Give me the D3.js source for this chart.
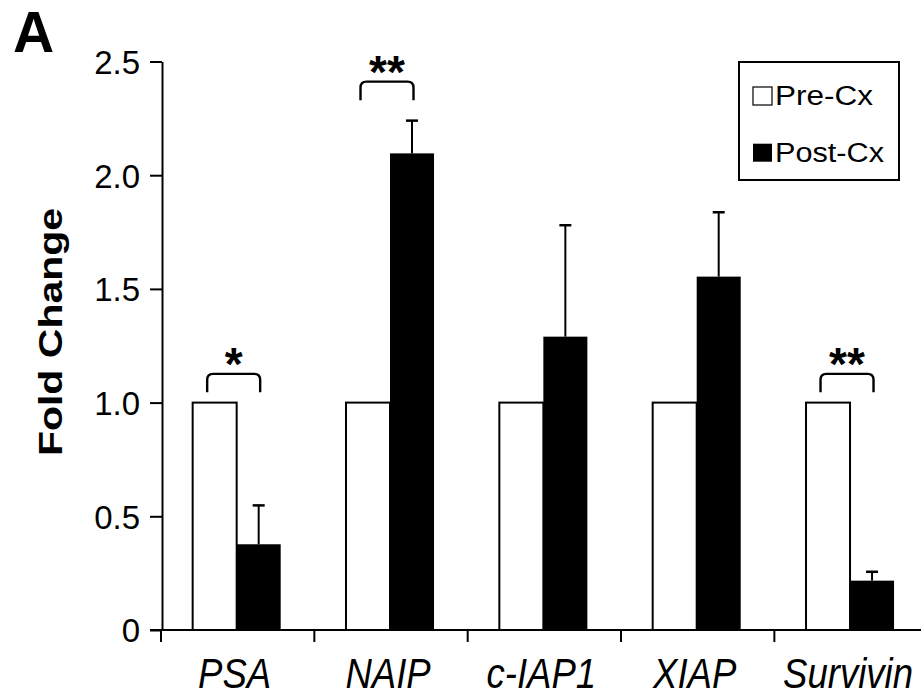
<!DOCTYPE html>
<html>
<head>
<meta charset="utf-8">
<script src="https://cdn.jsdelivr.net/npm/d3@7"></script>
<style>
  body { margin: 0; background: #fff; }
  svg { display: block; font-family: "Liberation Sans", Arial, sans-serif; }
</style>
</head>
<body>
<div id="chart"></div>
<script>
// chart values
var categories = ["PSA", "NAIP", "c-IAP1", "XIAP", "Survivin"];
var seriesNames = ["Pre-Cx", "Post-Cx"];
var preValues = [1.0, 1.0, 1.0, 1.0, 1.0];
var postValues = [0.377, 2.096, 1.29, 1.554, 0.217];
var postErrors = [0.171, 0.144, 0.49, 0.283, 0.039];
var sigLabels = ["*", "**", "", "", "**"];
var sigLevels = [1.045, 2.33, null, null, 1.045];
var yTicks = [0, 0.5, 1.0, 1.5, 2.0, 2.5];
var yTickLabels = ["0", "0.5", "1.0", "1.5", "2.0", "2.5"];

var width = 921, height = 698;

var svg = d3.select("#chart")
  .append("svg")
  .attr("width", width)
  .attr("height", height);

var y = d3.scaleLinear().domain([0, 2.5]).range([630, 61.5]);

var x0 = d3.scaleBand()
  .domain(categories)
  .range([160, 926.7])
  .padding(0);

var x1 = d3.scaleBand()
  .domain(seriesNames)
  .range([0, x0.bandwidth()])
  .paddingInner(0)
  .paddingOuter(0.742);

var axisX = x0.range()[0] + 2;

// bars
var groups = svg.append("g")
  .selectAll("g")
  .data(categories)
  .enter()
  .append("g")
  .attr("transform", function(d) { return "translate(" + x0(d) + ",0)"; });

groups.append("rect")
  .attr("x", x1("Pre-Cx"))
  .attr("width", x1.bandwidth())
  .attr("y", function(d, i) { return y(preValues[i]); })
  .attr("height", function(d, i) { return y(0) - y(preValues[i]); })
  .attr("fill", "#fff")
  .attr("stroke", "#000")
  .attr("stroke-width", 2);

groups.append("rect")
  .attr("x", x1("Post-Cx"))
  .attr("width", x1.bandwidth())
  .attr("y", function(d, i) { return y(postValues[i]); })
  .attr("height", function(d, i) { return y(0) - y(postValues[i]); })
  .attr("fill", "#000");

// error bars
var cx = x1("Post-Cx") + x1.bandwidth() / 2;
groups.append("line")
  .attr("x1", cx).attr("x2", cx)
  .attr("y1", function(d, i) { return y(postValues[i]); })
  .attr("y2", function(d, i) { return y(postValues[i] + postErrors[i]); })
  .attr("stroke", "#000")
  .attr("stroke-width", 2);
groups.append("line")
  .attr("x1", cx - 6).attr("x2", cx + 6)
  .attr("y1", function(d, i) { return y(postValues[i] + postErrors[i]); })
  .attr("y2", function(d, i) { return y(postValues[i] + postErrors[i]); })
  .attr("stroke", "#000")
  .attr("stroke-width", 2.5);

// significance brackets
var sig = groups.filter(function(d, i) { return sigLevels[i] !== null; });
sig.append("path")
  .attr("d", function(d) {
    var i = categories.indexOf(d);
    var mid = x0.bandwidth() / 2 - 3, half = 26.5, r = 6;
    var bottom = y(sigLevels[i]), top = bottom - 18.5;
    var l = mid - half, rt = mid + half;
    return "M" + l + "," + bottom + "L" + l + "," + (top + r) +
      "Q" + l + "," + top + " " + (l + r) + "," + top +
      "L" + (rt - r) + "," + top +
      "Q" + rt + "," + top + " " + rt + "," + (top + r) +
      "L" + rt + "," + bottom;
  })
  .attr("fill", "none")
  .attr("stroke", "#000")
  .attr("stroke-width", 2.4);
sig.append("text")
  .attr("x", x0.bandwidth() / 2 - 3)
  .attr("y", function(d) { var i = categories.indexOf(d); return y(sigLevels[i]) - 18.5 + 6; })
  .attr("text-anchor", "middle")
  .style("font-size", "46px")
  .style("font-weight", "bold")
  .text(function(d) { return sigLabels[categories.indexOf(d)]; });

// y axis
var yAxis = svg.append("g")
  .attr("transform", "translate(" + axisX + ",0)")
  .call(d3.axisLeft(y)
    .tickValues(yTicks)
    .tickFormat(function(d, i) { return yTickLabels[i]; })
    .tickSize(12)
    .tickSizeOuter(0)
    .tickPadding(10));
yAxis.select(".domain").attr("stroke-width", 2);
yAxis.selectAll(".tick line").attr("stroke-width", 2);
yAxis.selectAll(".tick text")
  .attr("fill", "#000")
  .attr("dy", "0.36em")
  .style("font-size", "33px")
  .style("font-family", "'Liberation Sans', Arial, sans-serif");

// x axis line and ticks
svg.append("line")
  .attr("x1", axisX - 12).attr("x2", width)
  .attr("y1", y(0)).attr("y2", y(0))
  .attr("stroke", "#000")
  .attr("stroke-width", 2);
svg.append("g")
  .selectAll("line")
  .data(categories)
  .enter()
  .append("line")
  .attr("x1", function(d) { return x0(d) + 1; })
  .attr("x2", function(d) { return x0(d) + 1; })
  .attr("y1", y(0))
  .attr("y2", y(0) + 12)
  .attr("stroke", "#000")
  .attr("stroke-width", 2);

// category labels
svg.append("g")
  .selectAll("g")
  .data(categories)
  .enter()
  .append("g")
  .attr("transform", function(d) { return "translate(" + (x0(d) + x0.bandwidth() / 2 - 2) + ",688)"; })
  .append("text")
  .attr("transform", "scale(0.85,1)")
  .attr("text-anchor", "middle")
  .style("font-size", "43px")
  .style("font-style", "italic")
  .text(function(d) { return d; });

// y title
svg.append("text")
  .attr("transform", "translate(62,332) rotate(-90) scale(1,0.8)")
  .attr("text-anchor", "middle")
  .style("font-size", "41px")
  .style("font-weight", "bold")
  .text("Fold Change");

// panel letter
svg.append("text")
  .attr("x", 13)
  .attr("y", 52)
  .style("font-size", "57px")
  .style("font-weight", "bold")
  .text("A");

// legend
var legend = svg.append("g");
legend.append("rect")
  .attr("x", 739).attr("y", 62)
  .attr("width", 160).attr("height", 118)
  .attr("fill", "#fff")
  .attr("stroke", "#000")
  .attr("stroke-width", 2);
var items = legend.selectAll(".item")
  .data(seriesNames)
  .enter()
  .append("g")
  .attr("class", "item")
  .attr("transform", function(d, i) { return "translate(752," + (105 + i * 56.7) + ")"; });
items.append("rect")
  .attr("x", 1).attr("y", -18)
  .attr("width", 19).attr("height", 18)
  .attr("fill", function(d, i) { return i === 0 ? "#fff" : "#000"; })
  .attr("stroke", "#000")
  .attr("stroke-width", function(d, i) { return i === 0 ? 1.2 : 0; });
items.append("text")
  .attr("x", 23)
  .attr("textLength", function(d, i) { return i === 0 ? 98 : 109; })
  .attr("lengthAdjust", "spacingAndGlyphs")
  .style("font-size", "27px")
  .text(function(d) { return d; });
</script>
</body>
</html>
